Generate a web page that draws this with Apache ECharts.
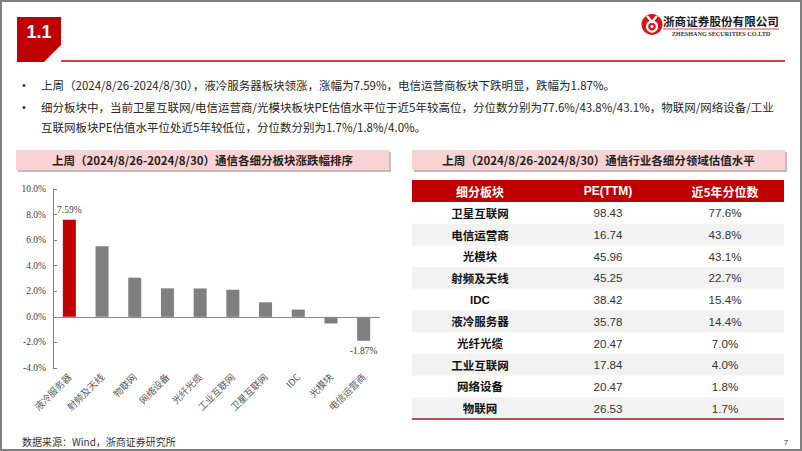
<!DOCTYPE html>
<html><head><meta charset="utf-8">
<script src="https://cdn.jsdelivr.net/npm/echarts@6/dist/echarts.min.js"></script>
<style>html,body{margin:0;padding:0;background:#fff}#c{width:802px;height:451px}</style>
</head><body><div id="c"></div>
<script>
// ---- data ----
const categories = ['液冷服务器','射频及天线','物联网','网络设备','光纤光缆','工业互联网','卫星互联网','IDC','光模块','电信运营商'];
const weeklyChange = [7.59, 5.52, 3.06, 2.23, 2.22, 2.12, 1.14, 0.57, -0.52, -1.87];
const labeledBars = [0, 9];
const yMin = -4, yMax = 10, yInterval = 2;
const tableHeader = ['细分板块','PE(TTM)','近5年分位数'];
const tableSectors = ['卫星互联网','电信运营商','光模块','射频及天线','IDC','液冷服务器','光纤光缆','工业互联网','网络设备','物联网'];
const tablePE = ['98.43','16.74','45.96','45.25','38.42','35.78','20.47','17.84','20.47','26.53'];
const tablePct = ['77.6%','43.8%','43.1%','22.7%','15.4%','14.4%','7.0%','4.0%','1.8%','1.7%'];
const sectionNo = '1.1';
const bullet1 = '上周（2024/8/26-2024/8/30），液冷服务器板块领涨，涨幅为7.59%，电信运营商板块下跌明显，跌幅为1.87%。';
const bullet2a = '细分板块中，当前卫星互联网/电信运营商/光模块板块PE估值水平位于近5年较高位，分位数分别为77.6%/43.8%/43.1%，物联网/网络设备/工业';
const bullet2b = '互联网板块PE估值水平位处近5年较低位，分位数分别为1.7%/1.8%/4.0%。';
const leftTitle = '上周（2024/8/26-2024/8/30）通信各细分板块涨跌幅排序';
const rightTitle = '上周（2024/8/26-2024/8/30）通信行业各细分领域估值水平';
const sourceText = '数据来源：Wind，浙商证券研究所';
const pageNo = '7';
const logoCN = '浙商证券股份有限公司';
const logoEN = 'ZHESHANG SECURITIES CO.LTD';

// ---- layout ----
const CJK = '"Noto Sans CJK SC","Noto Sans",sans-serif';
const ARIAL = '"Liberation Sans",Arial,sans-serif';
const SERIF = '"Liberation Serif","Times New Roman",serif';
const RED = '#C00000';

const g = [];
// frame
g.push({type:'rect', shape:{x:1,y:1,width:800,height:449}, style:{fill:'none', stroke:'#7f7f7f', lineWidth:2}, z:100});
// section badge
g.push({type:'polygon', shape:{points:[[17,17],[61,17],[61,45],[44,62],[17,62]]}, style:{fill:RED}});
g.push({type:'text', x:39, y:32, style:{text:sectionNo, fill:'#fff', font:'bold 18px '+ARIAL, textAlign:'center', textVerticalAlign:'middle'}});
g.push({type:'line', shape:{x1:61,y1:61,x2:785,y2:61}, style:{stroke:RED, lineWidth:1.5}});
// logo
g.push({type:'circle', shape:{cx:652,cy:24.5,r:10.5}, style:{fill:'#D7141E'}});
g.push({type:'circle', shape:{cx:652,cy:26.5,r:5}, style:{fill:'none', stroke:'#fff', lineWidth:2.2}});
g.push({type:'polyline', shape:{points:[[647,16],[652,22],[657,16]]}, style:{stroke:'#fff', lineWidth:2.2, fill:'none'}});
g.push({type:'circle', shape:{cx:652,cy:26.5,r:1.6}, style:{fill:'#fff'}});
g.push({type:'text', x:663, y:21, style:{text:logoCN, fill:'#1a1a1a', font:'bold 11.6px '+CJK, textVerticalAlign:'middle'}});
g.push({type:'line', shape:{x1:663,y1:29,x2:779,y2:29}, style:{stroke:'#D7141E', lineWidth:0.8}});
g.push({type:'text', x:721, y:33.5, style:{text:logoEN, fill:'#333', font:'bold 6.2px '+SERIF, textAlign:'center', textVerticalAlign:'middle'}});
// bullets
[[85,bullet1,true],[107,bullet2a,true],[127,bullet2b,false]].forEach(([y,t,b])=>{
  if(b) g.push({type:'text', x:22, y:y, style:{text:'•', fill:'#333', font:'11px '+ARIAL, textVerticalAlign:'middle'}});
  g.push({type:'text', x:41, y:y, style:{text:t, fill:'#262626', font:'11.5px '+CJK, textVerticalAlign:'middle'}});
});
// title boxes
function titleBox(x,w,t){
  g.push({type:'rect', shape:{x:x+2,y:152,width:w,height:20}, style:{fill:'#bdbdbd'}});
  g.push({type:'rect', shape:{x:x,y:150,width:w,height:20}, style:{fill:'#F9D3D4'}});
  g.push({type:'text', x:x+w/2, y:160, style:{text:t, fill:'#1f1f1f', font:'bold 11.5px '+CJK, textAlign:'center', textVerticalAlign:'middle'}});
}
titleBox(16,373,leftTitle);
titleBox(412,373,rightTitle);
// table
const tx = 412, tw = 372, hy = 180, hh = 22, rh = 21.7;
const colX = [480, 608, 725];
g.push({type:'rect', shape:{x:tx,y:hy,width:tw,height:hh}, style:{fill:RED}});
tableHeader.forEach((t,i)=>g.push({type:'text', x:colX[i], y:hy+hh/2, style:{text:t, fill:'#fff', font:'bold 12px '+(i===1?ARIAL:CJK), textAlign:'center', textVerticalAlign:'middle'}}));
tableSectors.forEach((s,r)=>{
  const y0 = hy+hh+r*rh;
  if(r%2===1) g.push({type:'rect', shape:{x:tx,y:y0,width:tw,height:rh}, style:{fill:'#F2F2F2'}});
  const cy = y0+rh/2;
  g.push({type:'text', x:colX[0], y:cy, style:{text:s, fill:'#111', font:'bold 11.5px '+(s==='IDC'?ARIAL:CJK), textAlign:'center', textVerticalAlign:'middle'}});
  g.push({type:'text', x:colX[1], y:cy, style:{text:tablePE[r], fill:'#333', font:'11.6px '+ARIAL, textAlign:'center', textVerticalAlign:'middle'}});
  g.push({type:'text', x:colX[2], y:cy, style:{text:tablePct[r], fill:'#333', font:'11.6px '+ARIAL, textAlign:'center', textVerticalAlign:'middle'}});
});
g.push({type:'line', shape:{x1:tx,y1:hy+hh+10*rh,x2:tx+tw,y2:hy+hh+10*rh}, style:{stroke:'#B4505A', lineWidth:2}});
// footer
g.push({type:'text', x:22, y:441, style:{text:sourceText, fill:'#333', font:'10px '+CJK, textVerticalAlign:'middle'}});
g.push({type:'text', x:786, y:442, style:{text:pageNo, fill:'#333', font:'8px '+ARIAL, textAlign:'center', textVerticalAlign:'middle'}});

const chart = echarts.init(document.getElementById('c'), null, {renderer:'svg'});
chart.setOption({
  animation:false,
  backgroundColor:'#fff',
  graphic: g,
  grid:{left:53, right:422, top:189, bottom:83},
  xAxis:{type:'category', data:categories,
    axisLine:{show:false}, axisTick:{show:false},
    axisLabel:{rotate:45, interval:0, margin:7, color:'#595959',
      fontFamily:'"Noto Sans CJK SC",'+SERIF, fontSize:9.5}},
  yAxis:{type:'value', min:yMin, max:yMax, interval:yInterval,
    axisLine:{show:true, lineStyle:{color:'#808080'}},
    axisTick:{show:true, inside:true, length:4, lineStyle:{color:'#808080'}},
    splitLine:{show:false},
    axisLabel:{color:'#404040', fontFamily:SERIF, fontSize:9.5, margin:7, formatter:v=>v.toFixed(1)+'%'}},
  series:[{type:'bar', barWidth:13,
    data: weeklyChange.map((v,i)=>({value:v,
      itemStyle:{color: i===0 ? RED : '#7F7F7F'},
      label:{show: labeledBars.includes(i), position: v>=0?'top':'bottom', distance:5,
        color:'#404040', fontFamily:SERIF, fontSize:9.5, formatter:p=>p.value.toFixed(2)+'%'}})),
    markLine:{silent:true, symbol:'none', label:{show:false},
      lineStyle:{color:'#898989', width:1, type:'solid'}, data:[{yAxis:0}]}
  }]
});
</script></body></html>
